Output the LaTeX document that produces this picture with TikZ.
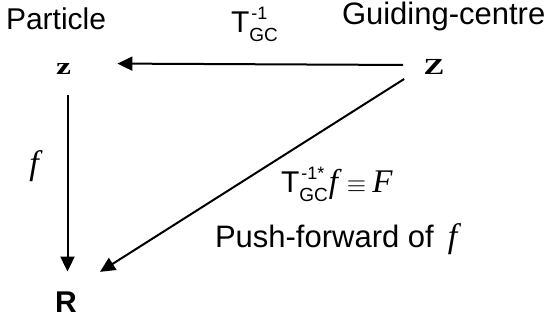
\documentclass[tikz,border=0pt]{standalone}
\usepackage{fontspec}
\usepackage{graphicx}
\setmainfont{Liberation Sans}
\newfontfamily\tms{Liberation Serif}
\usetikzlibrary{arrows.meta,calc}
\newcommand\fs[1]{\fontsize{#1}{#1}\selectfont}
\newcommand\TGCsym[1]{T\makebox[0pt][l]{\kern2pt\raisebox{13pt}{\fs{18}#1}}\raisebox{-9pt}{\fs{19}GC}}
\begin{document}
\begin{tikzpicture}[x=1pt,y=1pt,
  lbl/.style={inner sep=0pt, outer sep=0pt},
  arr/.style={line width=2pt, -{Triangle[length=15pt,width=14pt]}}]
\useasboundingbox (0,0) rectangle (558,327);
\node[lbl, anchor=base west] (part) at (6,297) {\fs{30}Particle};
\node[lbl, anchor=base west] (gc) at (342,302) {\fs{31}Guiding-centre};
\node[lbl, anchor=base west] (t1) at (231,294) {\fs{30}\TGCsym{-1}};
\node[lbl, anchor=base] (z) at (63.5,252) {\scalebox{1.4}[1]{\fs{24}\tms\bfseries z}};
\node[lbl, anchor=base] (Z) at (434,252) {\scalebox{1.35}[1]{\fs{23}\tms\bfseries Z}};
\node[lbl, anchor=base] (R) at (66,14) {\fs{30}\bfseries R};
\node[lbl] (fl) at (34,161) {\fs{34}\tms\itshape f};
\node[lbl, anchor=base west] (t2) at (281,134) {\fs{30}\TGCsym{-1*}\kern1pt{\fs{33}\tms\itshape f}\hspace{9pt}{\fs{28}$\equiv$}\hspace{6pt}{\fs{33}\tms\itshape F}};
\node[lbl, anchor=base west] (pf) at (215,79) {\fs{31}Push-forward of\hspace{14pt}{\fs{34}\tms\itshape f}};
\draw[arr] ($(Z.west)+(-20.5,2.5)$) -- ($(z.north east)+(46.5,0.4)$);
\draw[arr] ($(z.south)+(4,-20)$) -- ($(R.north)+(1.5,20.8)$);
\draw[arr] ($(Z.south west)+(-19.5,-4)$) -- ($(R.north east)+(23.2,20.5)$);
\end{tikzpicture}
\end{document}
